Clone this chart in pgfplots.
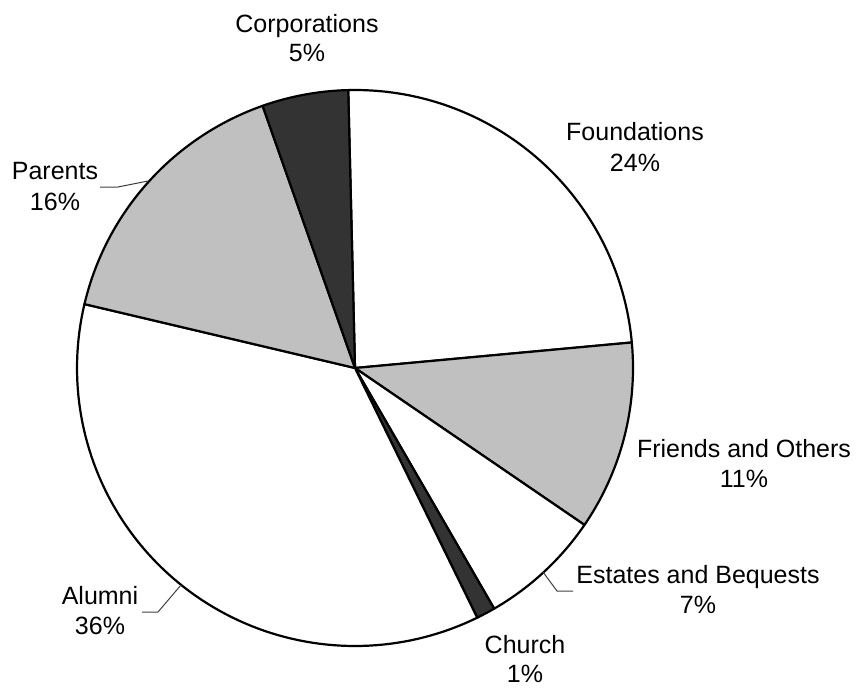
\documentclass[border=0pt]{standalone}
\usepackage{pgfplots}
\pgfplotsset{compat=1.18}
\usepackage{pgfplotstable}
\usepackage{fontspec}
\setmainfont{Liberation Sans}
\definecolor{pgray}{HTML}{C0C0C0}
\definecolor{pdark}{HTML}{333333}
\pgfplotstableread{
name value fillc
Foundations 23.9 white
Friends 11.0 pgray
Estates 7.1 white
Church 1.1 pdark
Alumni 35.9 white
Parents 15.9 pgray
Corporations 5.0 pdark
}\piedata
\begin{document}
\begin{tikzpicture}
\begin{axis}[
  scale only axis, width=858pt, height=688pt,
  xmin=0, xmax=858, ymin=0, ymax=688, y dir=reverse,
  hide axis, clip=false,
]
\pgfmathsetmacro{\cur}{91.4}
\pgfplotsforeachungrouped \i in {0,...,6}{%
  \pgfplotstablegetelem{\i}{value}\of\piedata \let\v\pgfplotsretval
  \pgfplotstablegetelem{\i}{fillc}\of\piedata \let\c\pgfplotsretval
  \pgfmathsetmacro{\nxt}{\cur-\v/99.9*360}%
  \edef\temp{\noexpand\addplot[fill=\c, draw=black, line width=2.2pt, line join=round, domain=\nxt:\cur, samples=90] ({355+278*cos(x)},{368-278*sin(x)}) -- (axis cs:355,368) -- cycle;}%
  \temp
  \let\cur\nxt
}
% leader lines
\addplot[black!75, line width=1pt] coordinates {(100,187) (118,187) (148,181)};
\addplot[black!75, line width=1pt] coordinates {(142,612) (158,612) (181,585)};
\addplot[black!75, line width=1pt] coordinates {(573,591) (557,591) (543,572)};
% labels
\begin{scope}[every node/.style={anchor=base, inner sep=0pt, font=\fontsize{25}{30}\selectfont}]
\node at (axis cs:307,32) {Corporations};
\node at (axis cs:307,61) {5\%};
\node at (axis cs:635,140) {Foundations};
\node at (axis cs:635,171) {24\%};
\node at (axis cs:55,179) {Parents};
\node at (axis cs:55,210) {16\%};
\node at (axis cs:744,457) {Friends and Others};
\node at (axis cs:744,487) {11\%};
\node at (axis cs:100,604) {Alumni};
\node at (axis cs:100,634) {36\%};
\node at (axis cs:698,583) {Estates and Bequests};
\node at (axis cs:698,613) {7\%};
\node at (axis cs:525,653) {Church};
\node at (axis cs:525,682) {1\%};
\end{scope}
\end{axis}
\pgfresetboundingbox
\path (current axis.south west) rectangle (current axis.north east);
\end{tikzpicture}
\end{document}
